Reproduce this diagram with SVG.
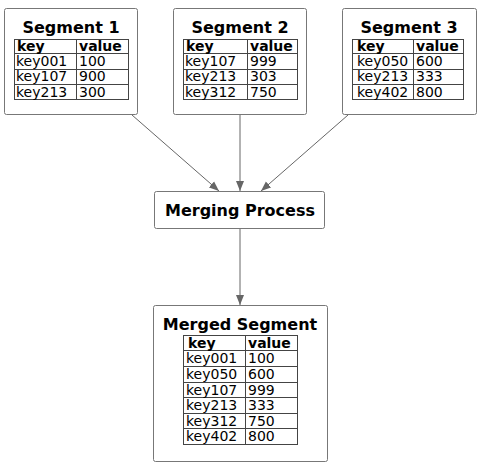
<svg xmlns="http://www.w3.org/2000/svg" width="486" height="465" viewBox="0 0 486 465">
<style>
.box{fill:#fff;stroke:#777;stroke-width:1}
.tbl{fill:none;stroke:#444;stroke-width:1}
.title{font-family:"DejaVu Sans",sans-serif;font-weight:bold;font-size:16px;fill:#000}
.th{font-family:"DejaVu Sans",sans-serif;font-weight:bold;font-size:14px;fill:#000}
.td{font-family:"DejaVu Sans",sans-serif;font-size:14px;fill:#000}
.edge{stroke:#666;stroke-width:1;fill:none;marker-end:url(#ah)}
</style>
<defs>
<marker id="ah" markerWidth="10" markerHeight="10" refX="10" refY="5" orient="auto" markerUnits="userSpaceOnUse">
<path d="M0,1 L10,5 L0,9 Z" fill="#666"/>
</marker>
</defs>
<rect width="486" height="465" fill="#fff"/>
<g id="connectors">
<line class="edge" x1="132" y1="115" x2="219" y2="191"/>
<line class="edge" x1="240" y1="115" x2="240" y2="191"/>
<line class="edge" x1="348" y1="115" x2="261" y2="191"/>
<line class="edge" x1="240" y1="229" x2="240" y2="305"/>
</g>
<g id="segment1">
<rect class="box" x="4.5" y="8.5" width="133" height="106" rx="2"/>
<text class="title" x="71" y="33" text-anchor="middle">Segment 1</text>
<rect class="tbl" x="14.5" y="39.5" width="114" height="60"/>
<path class="tbl" d="M14.5 53.5H128.5M14.5 69.5H128.5M14.5 84.5H128.5M76.5 39.5V99.5"/>
<text class="th" x="17" y="51">key</text><text class="th" x="79" y="51">value</text>
<text class="td" x="16" y="66">key001</text><text class="td" x="79" y="66">100</text>
<text class="td" x="16" y="81">key107</text><text class="td" x="79" y="81">900</text>
<text class="td" x="16" y="97">key213</text><text class="td" x="79" y="97">300</text>
</g>
<g id="segment2">
<rect class="box" x="173.5" y="8.5" width="133" height="106" rx="2"/>
<text class="title" x="240" y="33" text-anchor="middle">Segment 2</text>
<rect class="tbl" x="183.5" y="39.5" width="114" height="60"/>
<path class="tbl" d="M183.5 53.5H297.5M183.5 69.5H297.5M183.5 84.5H297.5M247.5 39.5V99.5"/>
<text class="th" x="186" y="51">key</text><text class="th" x="250" y="51">value</text>
<text class="td" x="185" y="66">key107</text><text class="td" x="250" y="66">999</text>
<text class="td" x="185" y="81">key213</text><text class="td" x="250" y="81">303</text>
<text class="td" x="185" y="97">key312</text><text class="td" x="250" y="97">750</text>
</g>
<g id="segment3">
<rect class="box" x="342.5" y="8.5" width="134" height="106" rx="2"/>
<text class="title" x="409" y="33" text-anchor="middle">Segment 3</text>
<rect class="tbl" x="352.5" y="39.5" width="111" height="60"/>
<path class="tbl" d="M352.5 53.5H463.5M352.5 69.5H463.5M352.5 84.5H463.5M413.5 39.5V99.5"/>
<text class="th" x="357" y="51">key</text><text class="th" x="416" y="51">value</text>
<text class="td" x="357" y="66">key050</text><text class="td" x="416" y="66">600</text>
<text class="td" x="357" y="81">key213</text><text class="td" x="416" y="81">333</text>
<text class="td" x="357" y="97">key402</text><text class="td" x="416" y="97">800</text>
</g>
<g id="merging">
<rect class="box" x="154.5" y="191.5" width="170" height="37" rx="2"/>
<text class="title" x="240" y="216" text-anchor="middle">Merging Process</text>
</g>
<g id="merged">
<rect class="box" x="153.5" y="305.5" width="174" height="156" rx="2"/>
<text class="title" x="240" y="330" text-anchor="middle">Merged Segment</text>
<rect class="tbl" x="183.5" y="335.5" width="114" height="109"/>
<path class="tbl" d="M183.5 350.5H297.5M183.5 366.5H297.5M183.5 382.5H297.5M183.5 397.5H297.5M183.5 413.5H297.5M183.5 428.5H297.5M245.5 335.5V444.5"/>
<text class="th" x="188" y="348">key</text><text class="th" x="248" y="348">value</text>
<text class="td" x="186" y="363">key001</text><text class="td" x="248" y="363">100</text>
<text class="td" x="186" y="379">key050</text><text class="td" x="248" y="379">600</text>
<text class="td" x="186" y="395">key107</text><text class="td" x="248" y="395">999</text>
<text class="td" x="186" y="410">key213</text><text class="td" x="248" y="410">333</text>
<text class="td" x="186" y="426">key312</text><text class="td" x="248" y="426">750</text>
<text class="td" x="186" y="441">key402</text><text class="td" x="248" y="441">800</text>
</g>
</svg>
